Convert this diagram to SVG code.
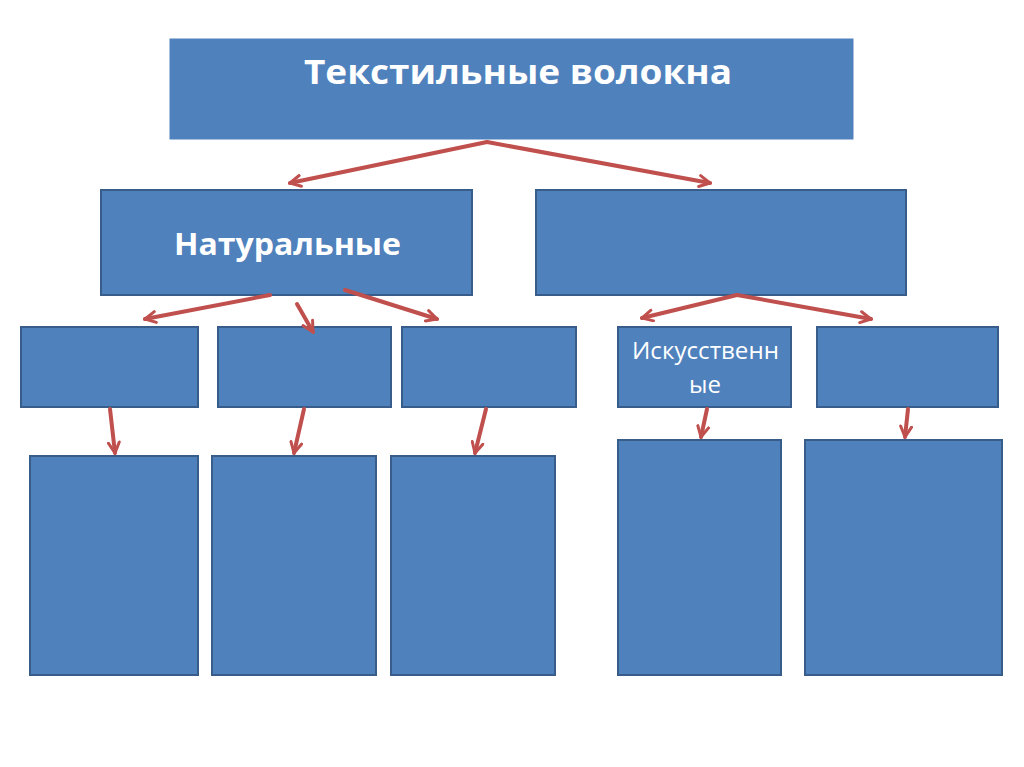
<svg xmlns="http://www.w3.org/2000/svg" width="1024" height="767" viewBox="0 0 1024 767">
<defs>
<style>
.box{fill:#4F81BD;stroke:#385D8A;stroke-width:2}
.top{fill:#4F81BD;stroke:#4F81BD;stroke-width:1}
.c{stroke:#C0504D;stroke-width:4;fill:none;stroke-linecap:round}
.t{fill:#FFFFFF;font-family:"Open Sans","Liberation Sans",sans-serif;text-anchor:middle}
</style>
<marker id="ah" viewBox="0 0 14 14" refX="12" refY="7" markerWidth="14" markerHeight="14" markerUnits="userSpaceOnUse" orient="auto">
<path d="M1.5,1.5 L12,7 L1.5,12.5" fill="none" stroke="#C0504D" stroke-width="3" stroke-linecap="round" stroke-linejoin="miter"/>
</marker>
</defs>
<rect width="1024" height="767" fill="#FFFFFF"/>
<g id="n-top"><rect class="top" x="170" y="39" width="683" height="100"/><text class="t" x="518" y="84" font-size="34" font-weight="bold" textLength="428" lengthAdjust="spacingAndGlyphs">Текстильные волокна</text></g>
<g id="n-nat"><rect class="box" x="101" y="190" width="371" height="105"/><text class="t" x="287.5" y="255" font-size="31" font-weight="bold" textLength="227" lengthAdjust="spacingAndGlyphs">Натуральные</text></g>
<g id="n-chem"><rect class="box" x="536" y="190" width="370" height="105"/></g>
<g id="n-a"><rect class="box" x="21" y="327" width="177" height="80"/></g>
<g id="n-b"><rect class="box" x="218" y="327" width="173" height="80"/></g>
<g id="n-c"><rect class="box" x="402" y="327" width="174" height="80"/></g>
<g id="n-art"><rect class="box" x="618" y="327" width="173" height="80"/><text class="t" x="705.5" y="359" font-size="24" textLength="147" lengthAdjust="spacingAndGlyphs">Искусственн</text><text class="t" x="705" y="393" font-size="24">ые</text></g>
<g id="n-syn"><rect class="box" x="817" y="327" width="181" height="80"/></g>
<g id="n-a2"><rect class="box" x="30" y="456" width="168" height="219"/></g>
<g id="n-b2"><rect class="box" x="212" y="456" width="164" height="219"/></g>
<g id="n-c2"><rect class="box" x="391" y="456" width="164" height="219"/></g>
<g id="n-art2"><rect class="box" x="618" y="440" width="163" height="235"/></g>
<g id="n-syn2"><rect class="box" x="805" y="440" width="197" height="235"/></g>
<g id="connectors">
<line class="c" x1="487" y1="142" x2="290" y2="183" marker-end="url(#ah)"/>
<line class="c" x1="487" y1="142" x2="710" y2="183" marker-end="url(#ah)"/>
<line class="c" x1="270" y1="295" x2="145" y2="319" marker-end="url(#ah)"/>
<line class="c" x1="297" y1="304" x2="313" y2="332" marker-end="url(#ah)"/>
<line class="c" x1="345" y1="290" x2="437" y2="319" marker-end="url(#ah)"/>
<line class="c" x1="737" y1="295" x2="642" y2="318" marker-end="url(#ah)"/>
<line class="c" x1="737" y1="295" x2="871" y2="319" marker-end="url(#ah)"/>
<line class="c" x1="110" y1="409" x2="115" y2="453" marker-end="url(#ah)"/>
<line class="c" x1="304" y1="409" x2="294" y2="453" marker-end="url(#ah)"/>
<line class="c" x1="486" y1="409" x2="475" y2="453" marker-end="url(#ah)"/>
<line class="c" x1="707" y1="409" x2="701" y2="437" marker-end="url(#ah)"/>
<line class="c" x1="908" y1="409" x2="905" y2="437" marker-end="url(#ah)"/>
</g>
</svg>
